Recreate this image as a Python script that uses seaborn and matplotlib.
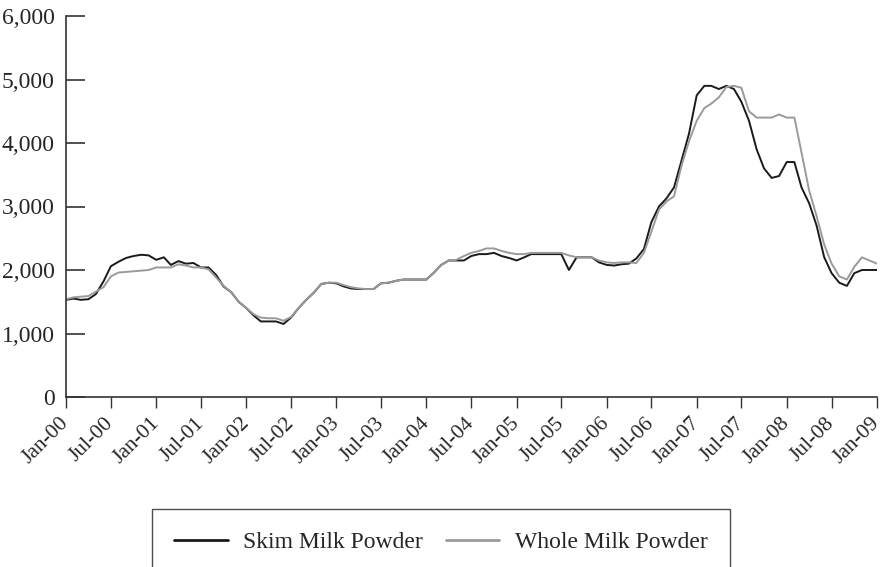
import matplotlib
matplotlib.use("Agg")
import matplotlib.pyplot as plt
import matplotlib.dates as mdates
import matplotlib.ticker as mticker
import numpy as np
import pandas as pd
import seaborn as sns

# ---- data (monthly, Jan-2000 .. Jan-2009), USD/tonne ----
start_month = "2000-01-01"
series_names = ["Skim Milk Powder", "Whole Milk Powder"]

skim = [
    1530, 1550, 1530, 1540, 1620, 1820, 2060, 2130, 2190, 2220, 2240, 2230,   # 2000
    2160, 2200, 2080, 2140, 2100, 2110, 2040, 2040, 1920, 1740, 1650, 1500,   # 2001
    1400, 1280, 1190, 1190, 1190, 1150, 1250, 1400, 1530, 1640, 1780, 1800,   # 2002
    1790, 1740, 1710, 1700, 1700, 1700, 1790, 1800, 1830, 1850, 1850, 1850,   # 2003
    1850, 1960, 2080, 2150, 2150, 2150, 2220, 2250, 2250, 2270, 2220, 2190,   # 2004
    2150, 2200, 2250, 2250, 2250, 2250, 2250, 2000, 2200, 2200, 2200, 2120,   # 2005
    2080, 2070, 2090, 2100, 2180, 2330, 2750, 3000, 3130, 3300, 3730, 4150,   # 2006
    4750, 4900, 4900, 4850, 4900, 4850, 4650, 4350, 3900, 3600, 3450, 3480,   # 2007
    3700, 3700, 3300, 3050, 2700, 2200, 1950, 1800, 1750, 1950, 2000, 2000,   # 2008
    2000,                                                                     # Jan-2009
]
whole = [
    1540, 1570, 1580, 1590, 1660, 1730, 1900, 1960, 1970, 1980, 1990, 2000,
    2040, 2040, 2040, 2090, 2070, 2040, 2040, 2010, 1880, 1750, 1650, 1500,
    1400, 1300, 1250, 1240, 1240, 1200, 1260, 1400, 1530, 1640, 1780, 1800,
    1800, 1760, 1730, 1710, 1700, 1700, 1790, 1800, 1830, 1850, 1850, 1850,
    1850, 1960, 2080, 2150, 2160, 2220, 2270, 2300, 2340, 2340, 2300, 2270,
    2250, 2250, 2270, 2270, 2270, 2270, 2270, 2230, 2200, 2200, 2200, 2150,
    2120, 2110, 2120, 2120, 2110, 2270, 2600, 2950, 3080, 3160, 3650, 4030,
    4350, 4550, 4620, 4720, 4880, 4900, 4870, 4500, 4400, 4400, 4400, 4450,
    4400, 4400, 3850, 3250, 2850, 2400, 2100, 1900, 1850, 2050, 2200, 2150,
    2100,
]
y_ticks = [0, 1000, 2000, 3000, 4000, 5000, 6000]
colors = ["#1a1a1a", "#9a9a9a"]

dates = pd.date_range(start_month, periods=len(skim), freq="MS")
df = pd.DataFrame({
    "date": np.concatenate([dates, dates]),
    "value": skim + whole,
    "series": [series_names[0]] * len(skim) + [series_names[1]] * len(whole),
})

sns.set_style("white")
plt.rcParams["font.family"] = ["Liberation Serif", "DejaVu Serif"]

fig = plt.figure(figsize=(8.85, 5.67), dpi=100)
ax = fig.add_axes([66 / 885, 1 - 397 / 567, (877 - 66) / 885, (397 - 16) / 567])

sns.lineplot(data=df, x="date", y="value", hue="series", hue_order=series_names,
             palette=colors, linewidth=1.4, ax=ax, legend=False)

ax.set_xlim(pd.Timestamp("2000-01-01"), pd.Timestamp("2009-01-01"))
ax.set_ylim(0, 6000)
ax.set_yticks(y_ticks)
ax.yaxis.set_major_formatter(mticker.FuncFormatter(lambda v, p: f"{int(v):,}"))
ax.xaxis.set_major_locator(mdates.MonthLocator(bymonth=[1, 7]))
ax.xaxis.set_major_formatter(mdates.DateFormatter("%b-%y"))
ax.set_xlabel("")
ax.set_ylabel("")

for s in ["top", "right"]:
    ax.spines[s].set_visible(False)
for s in ["left", "bottom"]:
    ax.spines[s].set_color("#333333")
    ax.spines[s].set_linewidth(1.2)

ax.tick_params(axis="y", direction="in", length=14, width=1.2, color="#333333",
               labelsize=17, pad=8, left=True)
ax.tick_params(axis="x", direction="out", length=8, width=1.0, color="#333333",
               labelsize=15.5, pad=9, bottom=True)
for lbl in ax.get_xticklabels():
    lbl.set_rotation(45)
    lbl.set_ha("right")
    lbl.set_va("center")
    lbl.set_rotation_mode("anchor")

handles = [plt.Line2D([], [], color=c, linewidth=2.0) for c in colors]
leg = fig.legend(handles, series_names, loc="upper left",
                 bbox_to_anchor=(152 / 885, 1 - 509 / 567), ncol=2,
                 fontsize=17, frameon=True, fancybox=False, borderpad=0.95,
                 handlelength=2.25, handletextpad=0.65, columnspacing=1.0,
                 borderaxespad=0)
leg.get_frame().set_edgecolor("#222222")
leg.get_frame().set_linewidth(1.0)

fig.savefig("out.png", dpi=100)
